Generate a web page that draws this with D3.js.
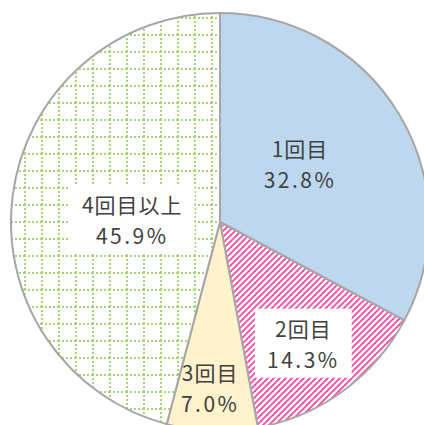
<!DOCTYPE html>
<html>
<head>
<meta charset="utf-8">
<script src="https://cdn.jsdelivr.net/npm/d3@7"></script>
<style>
  body { margin: 0; background: #fff; }
  svg { display: block; }
</style>
</head>
<body>
<div id="chart"></div>
<script>
// data
const categories = ["1回目", "2回目", "3回目", "4回目以上"];
const values = [32.8, 14.3, 7.0, 45.9];
const valueLabels = ["32.8%", "14.3%", "7.0%", "45.9%"];

const width = 424, height = 425;
const cx = 220, cy = 222, radius = 209;

// label placement: fraction of radius, angle nudge (deg), white box behind it
const labelRadius = [0.47, 0.71, 0.8, 0.42];
const labelNudge = [-4.5, 2, 1.2, -6.8];
const labelBox = [false, true, false, true];

const svg = d3.select("#chart").append("svg")
  .attr("width", width)
  .attr("height", height);

const defs = svg.append("defs");

// pink upward diagonal stripes
const stripe = defs.append("pattern")
  .attr("id", "stripe")
  .attr("patternUnits", "userSpaceOnUse")
  .attr("width", 6)
  .attr("height", 6);
stripe.append("rect").attr("width", 6).attr("height", 6).attr("fill", "#fff");
[[0, 6, 6, 0], [-1, 1, 1, -1], [5, 7, 7, 5]].forEach(s => {
  stripe.append("line")
    .attr("x1", s[0]).attr("y1", s[1]).attr("x2", s[2]).attr("y2", s[3])
    .attr("stroke", "#ff4aa5")
    .attr("stroke-width", 1.8);
});

// green dotted grid
const grid = defs.append("pattern")
  .attr("id", "grid")
  .attr("patternUnits", "userSpaceOnUse")
  .attr("x", 8).attr("y", -1)
  .attr("width", 17)
  .attr("height", 17);
grid.append("rect").attr("width", 17).attr("height", 17).attr("fill", "#fff");
grid.append("line")
  .attr("x1", 1).attr("y1", 0).attr("x2", 1).attr("y2", 17)
  .attr("stroke", "#a6d577").attr("stroke-width", 2)
  .attr("stroke-dasharray", "2,2");
grid.append("line")
  .attr("x1", 0).attr("y1", 1).attr("x2", 17).attr("y2", 1)
  .attr("stroke", "#a6d577").attr("stroke-width", 2)
  .attr("stroke-dasharray", "2,2");

const fills = d3.scaleOrdinal()
  .domain(categories)
  .range(["#bdd7ee", "url(#stripe)", "#fff2cc", "url(#grid)"]);

const pie = d3.pie().sort(null).value(d => d.value);
const arcs = pie(categories.map((c, i) => ({ name: c, value: values[i], label: valueLabels[i], i: i })));

const arc = d3.arc().innerRadius(0).outerRadius(radius);

const g = svg.append("g").attr("transform", `translate(${cx},${cy})`);

g.selectAll("path.slice")
  .data(arcs)
  .join("path")
    .attr("class", "slice")
    .attr("d", arc)
    .attr("fill", d => fills(d.data.name))
    .attr("stroke", "#a6a6a6")
    .attr("stroke-width", 2)
    .attr("stroke-linejoin", "round");

// labels
const labels = g.selectAll("g.label")
  .data(arcs)
  .join("g")
    .attr("class", "label")
    .attr("transform", d => {
      const r = radius * labelRadius[d.data.i];
      const a = (d.startAngle + d.endAngle) / 2 + labelNudge[d.data.i] * Math.PI / 180;
      return `translate(${r * Math.sin(a)},${-r * Math.cos(a)})`;
    });

labels.each(function(d) {
  const lg = d3.select(this);
  const box = lg.append("rect").attr("fill", "#fff");
  const t = lg.append("text")
    .attr("text-anchor", "middle")
    .attr("font-family", "'Noto Sans CJK JP', sans-serif")
    .attr("font-size", 21)
    .attr("letter-spacing", 1)
    .attr("fill", "#404040");
  t.append("tspan").attr("x", 0).attr("y", -8).text(d.data.name);
  t.append("tspan").attr("x", 0).attr("y", 23).attr("letter-spacing", 2.5).text(d.data.label);
  if (labelBox[d.data.i]) {
    const bb = t.node().getBBox();
    box.attr("x", bb.x - 12).attr("y", bb.y - 4)
      .attr("width", bb.width + 24).attr("height", bb.height + 8);
  } else {
    box.remove();
  }
});
</script>
</body>
</html>
